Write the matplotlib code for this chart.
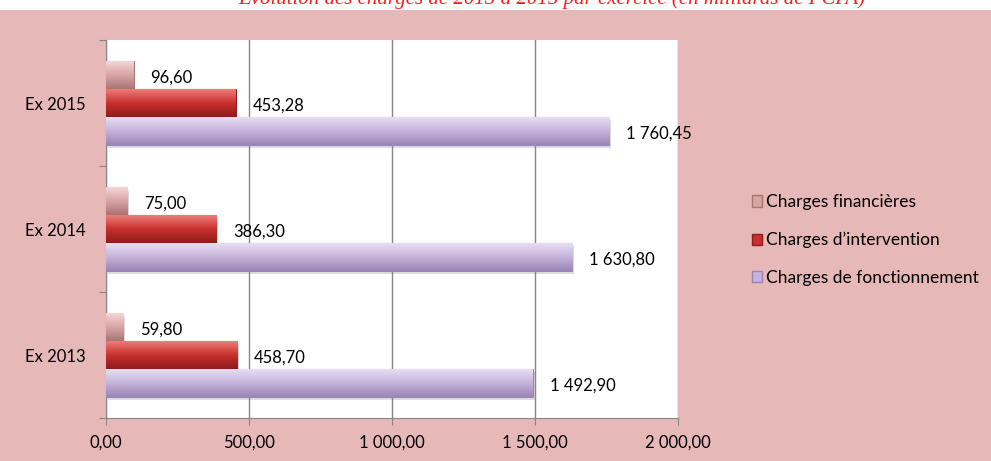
import numpy as np
import matplotlib
matplotlib.use("Agg")
import matplotlib.pyplot as plt
from matplotlib.colors import LinearSegmentedColormap
from matplotlib.patches import Rectangle

plt.rcParams['font.family'] = ['Lato', 'DejaVu Sans']

# données (milliards de FCFA)
exercices = ['Ex 2013', 'Ex 2014', 'Ex 2015']
fonctionnement = [1492.90, 1630.80, 1760.45]
intervention = [458.70, 386.30, 453.28]
financieres = [59.80, 75.00, 96.60]
xticks = [0, 500, 1000, 1500, 2000]

series = [
    ('Charges financières', financieres, ['#a87474', '#d9a4a4', '#f4d6d6']),
    ("Charges d’intervention", intervention, ['#8c1c1b', '#c9302c', '#ec7c7a']),
    ('Charges de fonctionnement', fonctionnement, ['#9a86b6', '#c4b3da', '#e8def3']),
]
offsets = [0.22, 0.0, -0.22]
h = 0.22

bg = '#e6b8b7'
fig = plt.figure(figsize=(9.91, 4.61), dpi=100, facecolor=bg)
fig.patches.append(Rectangle((0, 1 - 10 / 461), 1, 10 / 461, transform=fig.transFigure,
                             facecolor='white', edgecolor='none', zorder=0))
fig.text(0.557, 1 - 4 / 461, 'Evolution des charges de 2013 à 2015 par exercice (en milliards de FCFA)',
         ha='center', va='baseline', color='#ff1a1a', fontsize=15, style='italic',
         family='Liberation Serif')

ax = fig.add_axes([106 / 991, 43 / 461, 572 / 991, 378 / 461])
ax.set_facecolor('white')

y = np.arange(len(exercices))
grad = np.linspace(0, 1, 64).reshape(-1, 1)
handles = []
for (name, vals, cols), off in zip(series, offsets):
    cmap = LinearSegmentedColormap.from_list(name, cols)
    # ombre légère sous les barres
    ax.barh(y + off - 0.025, vals, height=h, left=6, color='#7f7f7f', alpha=0.25,
            edgecolor='none', zorder=2)
    bars = ax.barh(y + off, vals, height=h, color=cols[1], edgecolor=cols[0],
                   linewidth=0.8, zorder=3)
    for b in bars:
        x0, y0 = b.get_x(), b.get_y()
        im = ax.imshow(grad, cmap=cmap, extent=[x0, x0 + b.get_width(), y0, y0 + b.get_height()],
                       aspect='auto', origin='lower', zorder=3.5, interpolation='bicubic')
        im.set_clip_path(b)
    for yi, v in zip(y + off, vals):
        txt = f"{v:,.2f}".replace(',', ' ').replace('.', ',')
        ax.annotate(txt, (v, yi), xytext=(12, -2), textcoords='offset points',
                    ha='left', va='center', fontsize=12, zorder=5)
    handles.append(Rectangle((0, 0), 1, 1, facecolor=cols[1], edgecolor=cols[0]))

ax.set_xlim(0, 2000)
ax.set_ylim(-0.5, 2.5)
ax.set_xticks(xticks)
ax.set_xticklabels([f"{t:,.2f}".replace(',', ' ').replace('.', ',') for t in xticks], fontsize=12)
ax.set_yticks([-0.5, 0.5, 1.5, 2.5])
ax.set_yticklabels([])
ax.set_yticks(y, minor=True)
ax.set_yticklabels(exercices, minor=True, fontsize=12)
ax.tick_params(axis='y', which='minor', length=0, pad=15)
ax.tick_params(axis='y', which='major', length=5, color='#868686')
ax.tick_params(axis='x', length=5, color='#868686', pad=7)
ax.grid(axis='x', color='#868686', linewidth=1, zorder=1)
for s in ['top', 'right']:
    ax.spines[s].set_visible(False)
for s in ['left', 'bottom']:
    ax.spines[s].set_color('#868686')

fig.legend(handles, [s[0] for s in series], loc='center left',
           bbox_to_anchor=(736 / 991, 1 - 240 / 461), frameon=False, fontsize=12.5,
           handlelength=0.6, handleheight=0.6, handletextpad=0.2, labelspacing=1.25)

fig.savefig('out.png', dpi=100, facecolor=bg)
